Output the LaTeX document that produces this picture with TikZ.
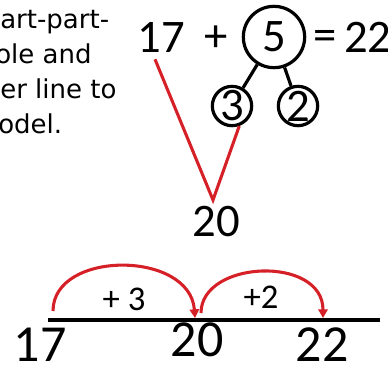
\documentclass[tikz,border=0pt]{standalone}
\usepackage{fontspec}
\setmainfont{Carlito}
\newfontfamily\txtfont{DejaVu Sans}
\usetikzlibrary{positioning, arrows.meta}
\definecolor{arcred}{RGB}{214,32,39}

\begin{document}
\begin{tikzpicture}[x=0.75pt, y=-0.75pt,
    num/.style={inner sep=0pt, font=\fontsize{35}{35}\selectfont},
    big/.style={inner sep=0pt, font=\fontsize{39}{39}\selectfont},
    circ/.style={draw, circle, line width=2.4pt, inner sep=0pt},
    jmp/.style={inner sep=0pt, font=\fontsize{26}{26}\selectfont},
    txt/.style={anchor=base west, inner sep=0pt,
                font=\txtfont\fontsize{19.5}{19.5}\selectfont},
    rl/.style={line width=2.3pt, draw=arcred},
    arw/.style={rl, -{Triangle[length=6.5pt, width=7pt]}},
]
\useasboundingbox (0,0) rectangle (388,365);
\clip (0,0) rectangle (388,365);

% text on the left
\node[txt] (t1) at (0,28) {art-part-};
\node[txt] (t2) at (-5,63) {ole and};
\node[txt] (t3) at (0,98) {er line to};
\node[txt] (t4) at (-2,133) {odel.};

% sum and part-whole
\node[num] (a) at (161,37) {17};
\node[num] (plus) at (216,39) {+};
\node[circ, num, minimum size=46pt] (five) at (274,37) {5};
\node[num] (eq) at (325,40) {=};
\node[num, anchor=west] (sum) at (344,37) {22};
\node[circ, num, minimum size=29.5pt] (three) at (232,106) {3};
\node[circ, num, minimum size=29.5pt] (two) at (298,106) {2};
\draw[line width=2.4pt] (five) -- (three);
\draw[line width=2.4pt] (five) -- (two);

\node[num] (mid) at (216,222) {20};
\coordinate (v) at (213,200);
\draw[rl] ([shift={(-6,7)}]a.south) -- (v) -- (three.-70);

% number line
\coordinate (nl0) at (48,320);
\coordinate (nl1) at (380,320);
\draw[line width=3pt] (nl0) -- (nl1);
\node[big] (n17) at (40,345) {17};
\node[big] (n20) at (197,340) {20};
\node[big] (n22) at (322,345) {22};

\coordinate (j0) at (53,311);
\coordinate (j1) at (195,318);
\coordinate (j2) at (201,313);
\coordinate (j3) at (323,318);
\draw[arw] (j0) .. controls (53,250) and (190,250) .. (j1);
\draw[arw] (j2) .. controls (201,260) and (323,255) .. (j3);
\node[jmp] (p3) at (124,299) {+ 3};
\node[jmp] (p2) at (261,297) {+2};
\end{tikzpicture}
\end{document}
